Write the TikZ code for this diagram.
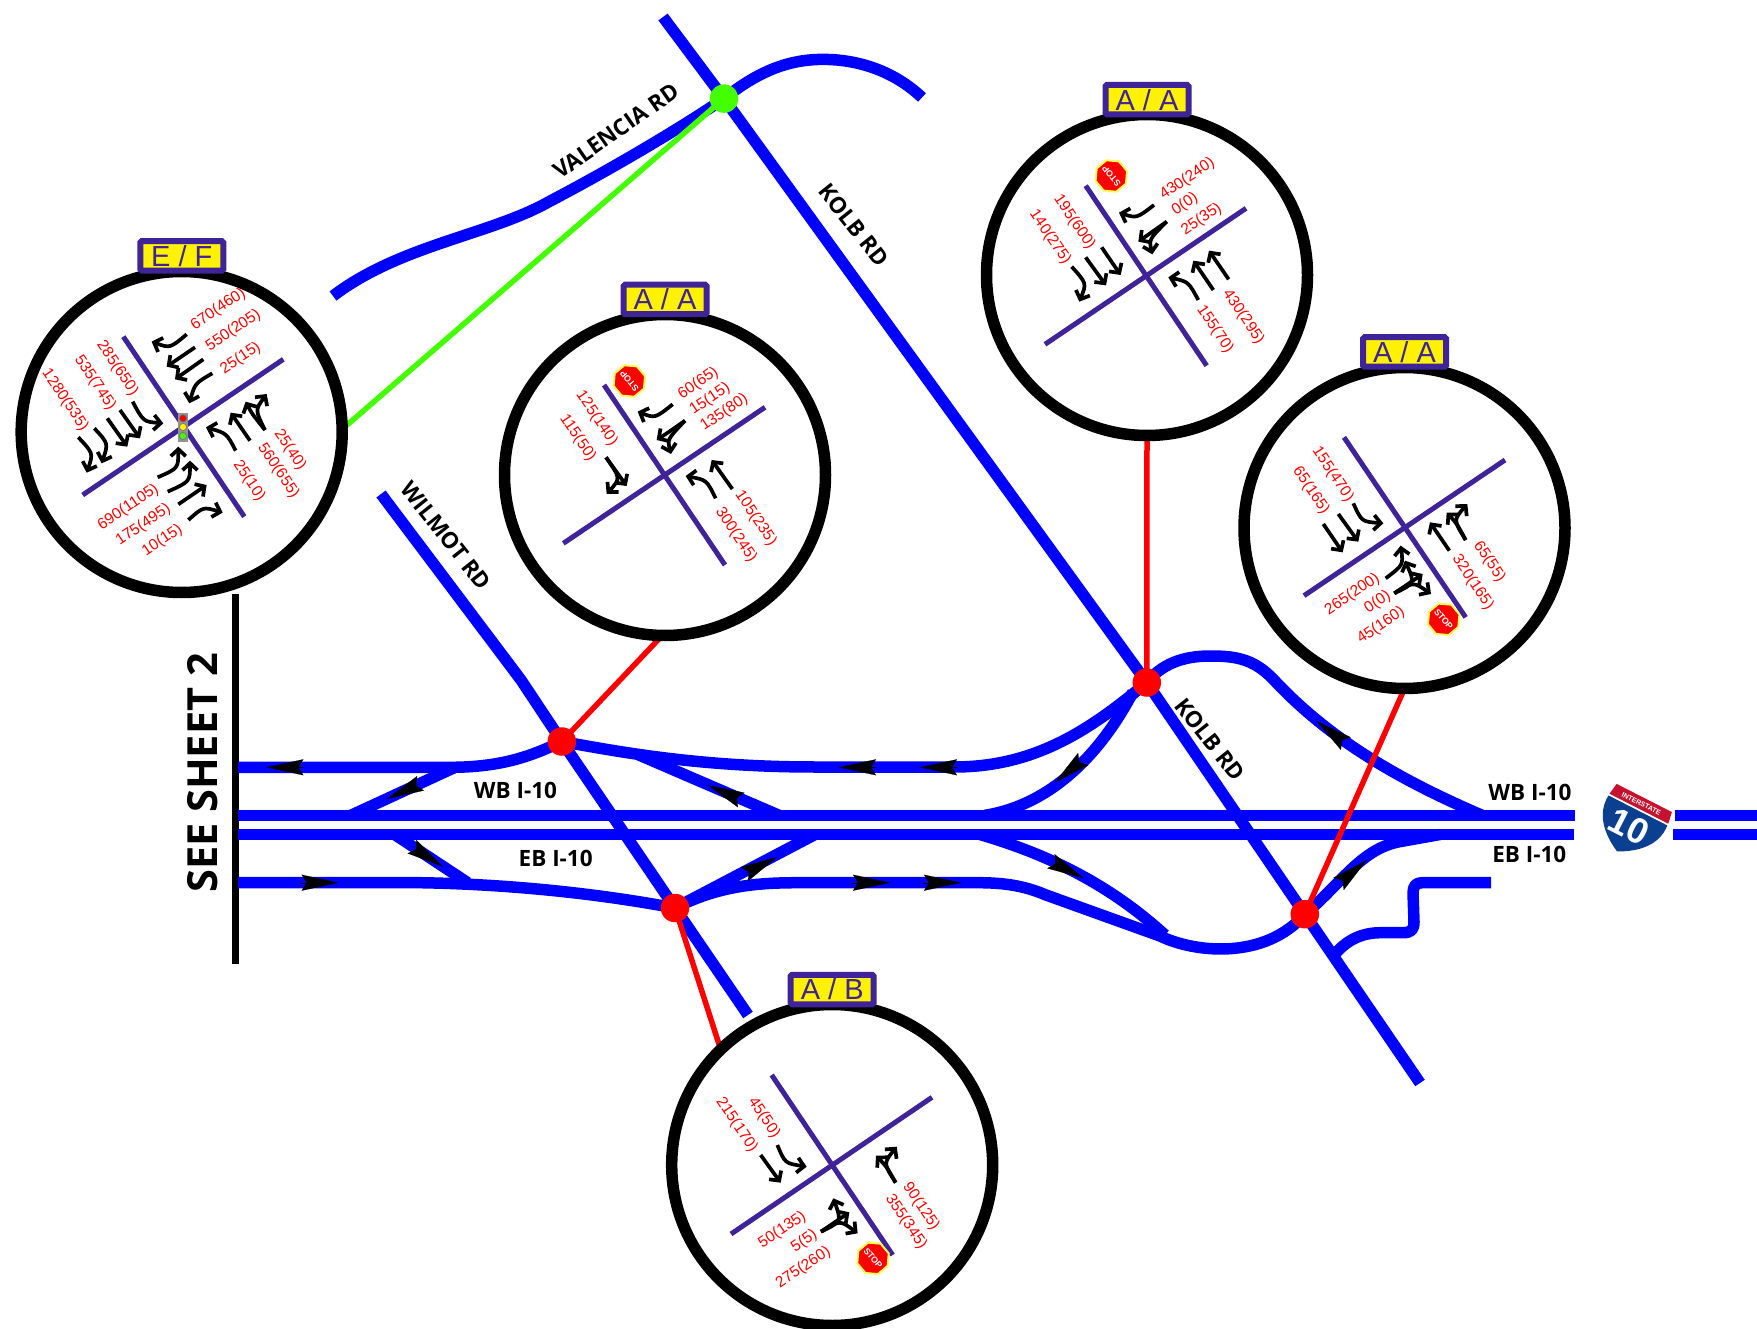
\documentclass[tikz,border=0pt]{standalone}
\usepackage{fontspec}
\setmainfont{Liberation Sans}
\newfontfamily\roadfont{Open Sans}
\usetikzlibrary{arrows.meta,shapes.geometric,backgrounds}
\definecolor{roadblue}{HTML}{0000FF}
\definecolor{xpurple}{HTML}{3F2399}
\definecolor{leadgreen}{HTML}{44FF00}
\definecolor{stopedge}{HTML}{FFFF55}
\definecolor{shieldblue}{HTML}{0B3F8F}
\definecolor{shieldred}{HTML}{C4122F}
\tikzset{
  road/.style={draw=roadblue,line width=11.5pt,line join=round},
  leader/.style={draw=red,line width=5.5pt},
  jdot/.style={circle,fill=red,minimum size=28.5pt,inner sep=0pt,outer sep=0pt},
  ring/.style={circle,draw=black,fill=white,line width=11.5pt,minimum size=321pt,inner sep=0pt,outer sep=0pt},
  badge/.style={rectangle,rounded corners=1.5pt,draw=xpurple,fill=yellow,line width=6pt,minimum width=83pt,minimum height=29.5pt,inner sep=0pt,text=xpurple,font=\fontsize{29}{29}\selectfont},
  xline/.style={draw=xpurple,line width=5pt},
  mv/.style={draw=black,line width=3.7pt,-{Straight Barb[length=7pt,width=15pt]}},
  voltxt/.style={text=red,font=\fontsize{15.5}{15.5}\selectfont,inner sep=0pt},
  stopsgn/.style={regular polygon,regular polygon sides=8,minimum size=33pt,inner sep=0pt,outer sep=0pt,fill=red,draw=stopedge,line width=2pt},
  stoptxt/.style={text=white,inner sep=0pt,font=\bfseries\fontsize{8.8}{8.8}\selectfont},
  roadtxt/.style={text=black,inner sep=0pt,font=\roadfont\bfseries\fontsize{22.5}{22.5}\selectfont},
  rampmark/.style={draw=black,line width=.1pt,-{Stealth[length=37pt,width=16pt,inset=5pt]}},
  zoomed/.style={x=.33333pt,y=-.33333pt},
}
\newcounter{volc}
\newcommand\vol[4]{\stepcounter{volc}\node[voltxt,rotate=#3] (vol\arabic{volc}) at (#1,#2) {#4};}
\newcommand\stopat[3]{\stepcounter{volc}\node[stopsgn,rotate=#3] (stp\arabic{volc}) at (#1,#2) {};\node[stoptxt,rotate=#3] (stx\arabic{volc}) at (stp\arabic{volc}.center) {STOP};}
\newcommand\rampmk[4]{\draw[rampmark] (#3,#4) -- (#1,#2);}
\begin{document}
\begin{tikzpicture}[x=1pt,y=-1pt]
\useasboundingbox (0,0) rectangle (1757,1329);
% junctions
\node[jdot] (j1) at (561.8,741.5) {};
\node[jdot] (j2) at (675,908) {};
\node[jdot] (j3) at (1146.8,682.5) {};
\node[jdot] (j4) at (1304.8,914.2) {};
\node[jdot,fill=leadgreen] (g1) at (724,98.6) {};
% rings
\node[ring] (c1) at (181.7,432) {};
\node[ring] (c2) at (665,475) {};
\node[ring] (c3) at (1147,275) {};
\node[ring] (c4) at (1404.5,528) {};
\node[ring] (c5) at (832.2,1165) {};
\node[badge] (b1) at (181.8,255.8) {E / F};
\node[badge] (b2) at (665,299.5) {A / A};
\node[badge] (b3) at (1147,99.7) {A / A};
\node[badge] (b4) at (1404.5,352) {A / A};
\node[badge] (b5) at (832.2,989.5) {A / B};
\begin{scope}[on background layer]
% see sheet bar
\coordinate (bar1) at (235,594); \coordinate (bar2) at (235,964);
\draw[black,line width=7pt] (bar1) -- (bar2);
% mainline
\draw[road] (238,815.3) -- (1575,815.3);
\draw[road] (238,834.5) -- (1574,834.5);
\draw[road] (1675,815.3) -- (1757,815.3);
\draw[road] (1673,834.5) -- (1757,834.5);
% Kolb, Wilmot
\draw[road] (663,17) -- (g1.center) -- (j3.center) -- (j4.center) -- (1420,1083);
\draw[road] (381,494) -- (521,680) -- (j1.center) -- (j2.center) -- (748,1015);
% Valencia
\draw[road] (333,296) .. controls (400,245) and (490,235) .. (549,201.7) .. controls (600,175) and (670,135) .. (g1.center);
\draw[road] (g1.center) .. controls (760,70) and (790,59.4) .. (823,59.4) .. controls (860,59.4) and (895,72) .. (922,97.5);
% WB frontage west
\draw[road] (238,767.3) -- (452,767.3) .. controls (500,767) and (530,757) .. (j1.center);
\draw[road] (351,815.3) -- (455,767.3);
% WB frontage east
\draw[road] (j1.center) .. controls (620,752) and (700,767) .. (815,767) -- (954,767) .. controls (1035,767) and (1090,730) .. (j3.center);
\draw[road] (639,755) -- (779,815.3);
\draw[road] (985,815.3) .. controls (1050,805) and (1100,755) .. (1133,692);
\draw[road] (j3.center) .. controls (1165,660) and (1190,656) .. (1211,656) .. controls (1238,656) and (1255,660) .. (1274,680) .. controls (1330,740) and (1400,780) .. (1482,815.3);
% EB frontage west
\draw[road] (238,882.7) -- (420,882.7) .. controls (500,884) and (590,892) .. (j2.center);
\draw[road] (394.7,834.5) -- (467.7,882.7);
% EB frontage east
\draw[road] (j2.center) -- (815,834.5);
\draw[road] (j2.center) .. controls (720,885) and (760,882.7) .. (800,882.7) -- (978,882.7) .. controls (1005,882.7) and (1025,886) .. (1046,895) -- (1160,936) .. controls (1195,953) and (1265,960) .. (j4.center);
\draw[road] (980,834.5) .. controls (1050,855) and (1110,885) .. (1165,935);
\draw[road] (j4.center) .. controls (1340,885) and (1360,850) .. (1398,842) -- (1440,834.5);
% south ramp
\draw[road] (1332,958) .. controls (1345,940) and (1362,932.7) .. (1380.5,932.7) -- (1403,932.7) .. controls (1411,932.7) and (1414,930) .. (1414,922) -- (1413,893) .. controls (1413,886) and (1416,882.7) .. (1422,882.7) -- (1491,882.7);
% leaders
\draw[draw=leadgreen,line width=5.5pt] (g1.center) -- (c1.1);
\draw[leader] (j1.center) -- (c2.-91);
\draw[leader] (j2.center) -- (c5.134);
\draw[leader] (j3.center) -- (c3.-90);
\draw[leader] (j4.center) -- (c4.-90);
\end{scope}
% ramp direction marks
\rampmk{266.4}{767.3}{304}{767.3}
\rampmk{338.6}{882.7}{301}{882.7}
\rampmk{387}{799}{420.5}{783.3}
\rampmk{707.5}{785}{740}{799.5}
\rampmk{443}{866.7}{412.5}{847}
\rampmk{777}{857}{744.6}{874}
\rampmk{839}{767.3}{876.3}{767.3}
\rampmk{920}{767.3}{957.8}{767.3}
\rampmk{890}{882.7}{852}{882.7}
\rampmk{961}{882.7}{923.4}{882.7}
\rampmk{1054.7}{782.7}{1082.4}{759.7}
\rampmk{1316.5}{721}{1344.6}{742.7}
\rampmk{1083.8}{878.3}{1051.8}{861.7}
\rampmk{1366.9}{860}{1339.3}{883.3}
% road labels
\node[roadtxt,rotate=35] (t1) at (616,131) {VALENCIA RD};
\node[roadtxt,rotate=-51.5] (t2) at (853.8,225) {KOLB RD};
\node[roadtxt,rotate=-51.6] (t3) at (446,535.6) {WILMOT RD};
\node[roadtxt,rotate=-51.6] (t4) at (1210,739.5) {KOLB RD};
\node[roadtxt] (t5) at (515.4,790) {WB I-10};
\node[roadtxt] (t6) at (555.7,858.3) {EB I-10};
\node[roadtxt] (t7) at (1530,792.7) {WB I-10};
\node[roadtxt] (t8) at (1529.3,854.7) {EB I-10};
\node[text=black,inner sep=0pt,rotate=90,font=\roadfont\bfseries\fontsize{41.5}{41.5}\selectfont] (t9) at (203,773) {SEE SHEET 2};
% shield
\begin{scope}[shift={(1644.3,798)},rotate=-27]
\fill[shieldblue] (-33,14) -- (33,14) .. controls (35,35) and (20,50) .. (0,60) .. controls (-20,50) and (-35,35) .. (-33,14) -- cycle;
\fill[shieldred] (-31,0) -- (31,0) -- (33,12) -- (-33,12) -- cycle;
\node[text=white,inner sep=0pt,rotate=-27,font=\bfseries\fontsize{7}{7}\selectfont] (s1) at (0,6.5) {INTERSTATE};
\node[text=white,inner sep=0pt,rotate=-27,font=\bfseries\fontsize{36}{36}\selectfont] (s2) at (-1,32) {10};
\end{scope}
% circle 1
\begin{scope}[shift={(0,220)},zoomed]
\draw[xline] (370,350) -- (733,890);
\draw[xline] (850,418) -- (248,825);
\draw[mv] (560,343) .. controls (510,385) .. (455,365);
\draw[mv] (585,382) -- (500,440);
\draw[mv] (610,418) -- (525,478);
\draw[mv] (637,460) .. controls (585,490) .. (568,550);
\draw[mv] (398,545) .. controls (430,605) .. (490,610);
\draw[mv] (360,570) -- (420,655);
\draw[mv] (322,595) -- (382,680);
\draw[mv] (283,625) .. controls (325,670) .. (305,730);
\draw[mv] (235,652) .. controls (280,700) .. (260,758);
\draw[mv] (473,772) .. controls (535,745) .. (535,680);
\draw[mv] (503,815) .. controls (570,785) .. (570,722);
\draw[mv] (535,853) -- (620,795);
\draw[mv] (565,900) .. controls (610,860) .. (668,878);
\draw[mv] (707,692) .. controls (680,640) .. (618,622);
\draw[mv] (750,662) -- (692,578);
\draw[mv] (795,630) .. controls (755,580) .. (737,545);
\draw[mv] (795,630) .. controls (765,570) .. (800,522);
\fill[gray!85] (534,580) rectangle (565,665);
\node[circle,fill=red,draw=black!60,line width=.5pt,minimum size=7pt,inner sep=0pt] (tl1) at (549,595) {};
\node[circle,fill=yellow,draw=black!60,line width=.5pt,minimum size=7pt,inner sep=0pt] (tl2) at (549,621) {};
\node[circle,fill=leadgreen,draw=black!60,line width=.5pt,minimum size=7pt,inner sep=0pt] (tl3) at (549,648) {};
\vol{655}{268}{34}{670(460)}
\vol{700}{332}{34}{550(205)}
\vol{722}{415}{34}{25(15)}
\vol{352}{445}{-56}{285(650)}
\vol{285}{488}{-56}{535(745)}
\vol{195}{540}{-56}{1280(535)}
\vol{870}{690}{-56}{25(40)}
\vol{835}{752}{-56}{560(655)}
\vol{747}{782}{-56}{25(10)}
\vol{385}{862}{34}{690(1105)}
\vol{430}{915}{34}{175(495)}
\vol{487}{962}{34}{10(15)}
\end{scope}
% circle 2
\begin{scope}[shift={(490,270)},zoomed]
\draw[xline] (342,345) -- (705,885);
\draw[xline] (825,412) -- (220,820);
\draw[mv] (548,403) .. controls (495,445) .. (443,425);
\draw[mv] (585,452) .. controls (538,485) .. (500,510);
\draw[mv] (585,452) .. controls (532,508) .. (543,552);
\draw[mv] (348,562) .. controls (392,625) .. (350,672);
\draw[mv] (348,562) -- (410,648);
\draw[mv] (677,685) .. controls (650,630) .. (587,618);
\draw[mv] (727,657) -- (665,570);
\stopat{418}{333}{130}
\vol{625}{340}{34}{60(65)}
\vol{660}{387}{34}{15(15)}
\vol{703}{428}{34}{135(80)}
\vol{320}{445}{-56}{125(140)}
\vol{263}{503}{-56}{115(50)}
\vol{797}{745}{-56}{105(235)}
\vol{738}{795}{-56}{300(245)}
\end{scope}
% circle 3
\begin{scope}[shift={(970,70)},zoomed]
\draw[xline] (347,347) -- (710,887);
\draw[xline] (828,415) -- (225,823);
\draw[mv] (552,405) .. controls (500,445) .. (447,428);
\draw[mv] (590,455) .. controls (543,488) .. (505,515);
\draw[mv] (590,455) .. controls (537,508) .. (547,553);
\draw[mv] (395,532) -- (452,615);
\draw[mv] (347,562) -- (408,646);
\draw[mv] (305,590) .. controls (350,640) .. (328,695);
\draw[mv] (685,690) .. controls (655,635) .. (595,622);
\draw[mv] (730,660) -- (670,572);
\draw[mv] (776,628) -- (717,542);
\stopat{424}{318}{130}
\vol{652}{327}{34}{430(240)}
\vol{645}{403}{34}{0(0)}
\vol{695}{448}{34}{25(35)}
\vol{313}{457}{-56}{195(600)}
\vol{240}{502}{-56}{140(275)}
\vol{820}{740}{-56}{430(295)}
\vol{735}{778}{-56}{155(70)}
\end{scope}
% circle 4
\begin{scope}[shift={(1230,320)},zoomed]
\draw[xline] (342,352) -- (707,892);
\draw[xline] (825,420) -- (222,827);
\draw[mv] (370,550) .. controls (395,605) .. (460,610);
\draw[mv] (325,582) -- (385,665);
\draw[mv] (280,612) -- (338,697);
\draw[mv] (658,692) -- (600,607);
\draw[mv] (707,660) .. controls (680,610) .. (650,578);
\draw[mv] (707,660) .. controls (670,600) .. (712,552);
\draw[mv] (467,775) .. controls (520,735) .. (512,677);
\draw[mv] (493,820) .. controls (555,790) .. (525,722);
\draw[mv] (493,820) -- (578,762);
\draw[mv] (493,820) .. controls (550,785) .. (603,822);
\stopat{641}{898}{-50}
\vol{308}{463}{-56}{155(470)}
\vol{243}{512}{-56}{65(165)}
\vol{778}{725}{-56}{65(55)}
\vol{728}{787}{-56}{320(165)}
\vol{367}{823}{34}{265(200)}
\vol{443}{846}{34}{0(0)}
\vol{453}{917}{34}{45(160)}
\end{scope}
% circle 5
\begin{scope}[shift={(660,960)},zoomed]
\draw[xline] (335,345) -- (698,885);
\draw[xline] (816,412) -- (213,822);
\draw[mv] (352,555) .. controls (375,610) .. (440,620);
\draw[mv] (302,585) -- (362,668);
\draw[mv] (707,668) .. controls (680,620) .. (648,587);
\draw[mv] (707,668) .. controls (670,610) .. (710,560);
\draw[mv] (483,815) .. controls (545,785) .. (520,715);
\draw[mv] (483,815) -- (568,757);
\draw[mv] (483,815) .. controls (540,780) .. (593,820);
\stopat{639}{895}{-50}
\vol{312}{473}{-56}{45(50)}
\vol{230}{495}{-56}{215(170)}
\vol{783}{740}{-56}{90(125)}
\vol{738}{785}{-56}{355(345)}
\vol{367}{810}{34}{50(135)}
\vol{433}{843}{34}{5(5)}
\vol{430}{923}{34}{275(260)}
\end{scope}
\end{tikzpicture}
\end{document}
